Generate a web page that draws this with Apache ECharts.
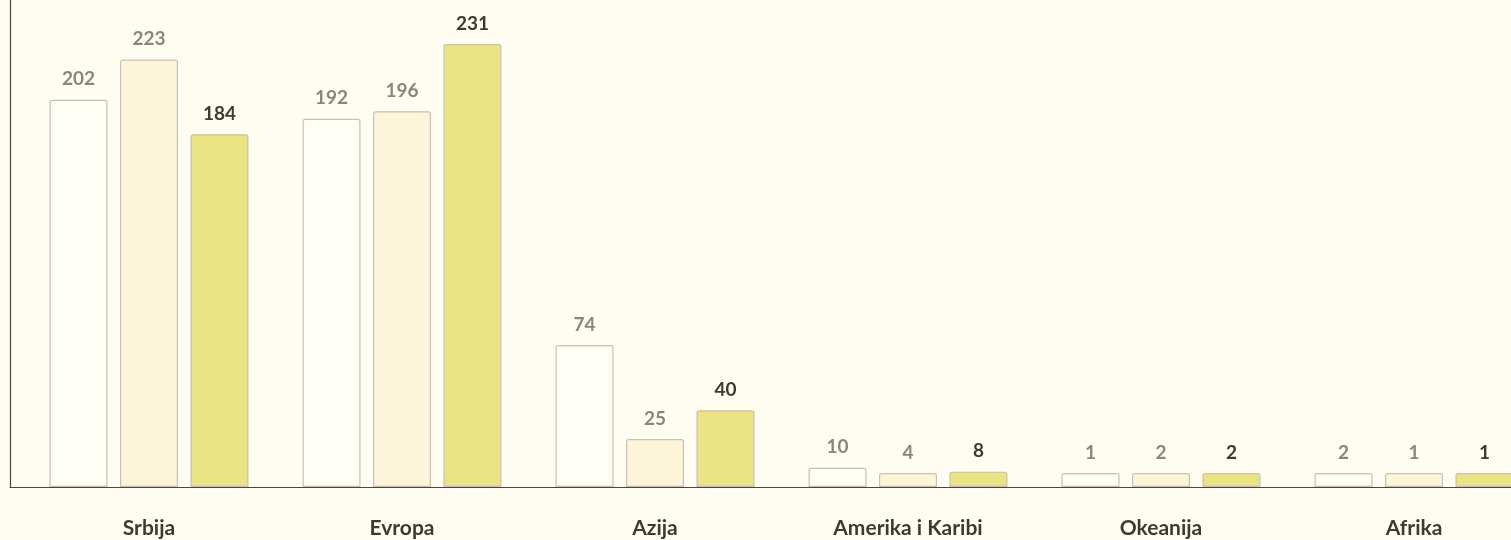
<!DOCTYPE html>
<html>
<head>
<meta charset="utf-8">
<script src="https://cdn.jsdelivr.net/npm/echarts@6/dist/echarts.min.js"></script>
<style>
html,body{margin:0;padding:0;background:#fffdf2;overflow:hidden;}
#c{width:1545px;height:540px;}
</style>
</head>
<body>
<div id="c"></div>
<script>
const categories = ["Srbija", "Evropa", "Azija", "Amerika i Karibi", "Okeanija", "Afrika"];
const series1 = [202, 192, 74, 10, 1, 2];
const series2 = [223, 196, 25, 4, 2, 1];
const series3 = [184, 231, 40, 8, 2, 1];

const chart = echarts.init(document.getElementById('c'));
const border = '#c8c0b2';
const axisColor = '#4a4540';
function mk(data, fill, labelColor) {
  return {
    type: 'bar',
    data: data,
    barWidth: 58,
    barGap: '21.5%',
    barMinHeight: 14,
    itemStyle: { color: fill, borderColor: border, borderWidth: 1.2, borderRadius: [2, 2, 0, 0] },
    label: {
      show: true, position: 'top', distance: 11,
      color: labelColor, fontSize: 19, fontWeight: 'bold', fontFamily: 'Lato'
    },
    emphasis: { disabled: true },
    animation: false
  };
}
chart.setOption({
  backgroundColor: '#fffdf2',
  animation: false,
  grid: [
    { left: 22.5, top: 0, width: 1518, height: 487, containLabel: false },
    { left: 10, top: 0, width: 1530, height: 487, containLabel: false }
  ],
  xAxis: [{
    type: 'category',
    gridIndex: 0,
    data: categories,
    axisLine: { show: false },
    axisTick: { show: false },
    axisLabel: { margin: 31, color: '#3d3a35', fontSize: 21, fontWeight: 'bold', fontFamily: 'Lato' }
  }, {
    type: 'value',
    gridIndex: 1,
    min: 0, max: 1,
    axisLine: { show: true, lineStyle: { color: axisColor, width: 1.2 } },
    axisTick: { show: false },
    axisLabel: { show: false },
    splitLine: { show: false }
  }],
  yAxis: [{
    type: 'value',
    gridIndex: 0,
    min: 0,
    max: 254,
    axisLine: { show: false },
    axisTick: { show: false },
    axisLabel: { show: false },
    splitLine: { show: false }
  }, {
    type: 'value',
    gridIndex: 1,
    min: 0, max: 1,
    axisLine: { show: true, lineStyle: { color: axisColor, width: 1.2 } },
    axisTick: { show: false },
    axisLabel: { show: false },
    splitLine: { show: false }
  }],
  series: [
    mk(series1, '#fffef6', '#8a8580'),
    mk(series2, '#fcf5da', '#8a8580'),
    mk(series3, '#eae384', '#3d3a35')
  ]
});
</script>
</body>
</html>
